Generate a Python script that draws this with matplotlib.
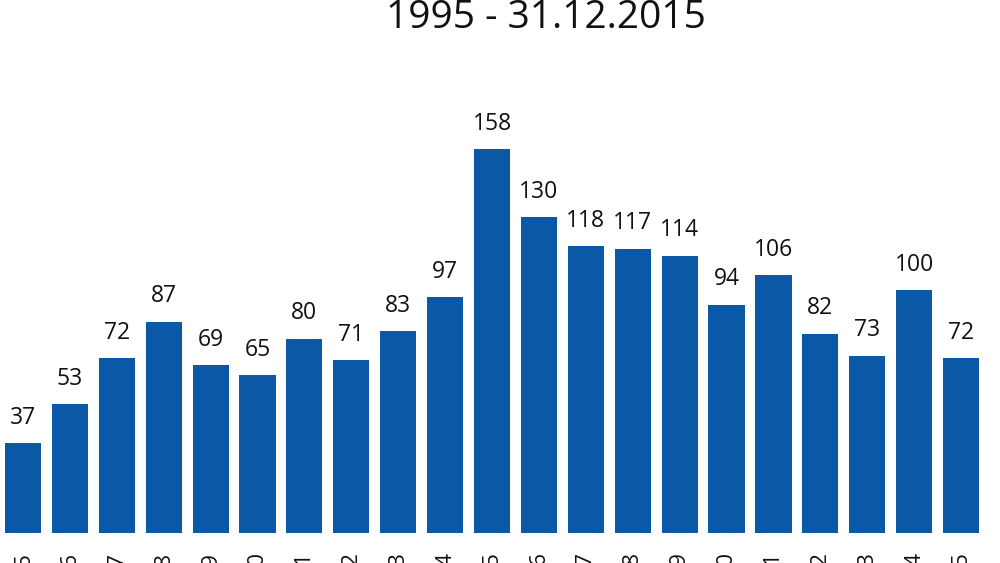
import numpy as np
import matplotlib
matplotlib.use('Agg')
import matplotlib.pyplot as plt
import matplotlib.transforms as mtransforms

years = [str(y) for y in range(1995, 2016)]
values = [37, 53, 72, 87, 69, 65, 80, 71, 83, 97, 158,
          130, 118, 117, 114, 94, 106, 82, 73, 100, 72]
title = '1995 - 31.12.2015'

plt.rcParams['font.family'] = ['Open Sans', 'DejaVu Sans']

fig = plt.figure(figsize=(10, 5.63), dpi=100)
ax = fig.add_axes([0, 0, 1, 1])
ax.axis('off')

x = np.arange(len(values))
ax.bar(x, values, width=0.77, color='#0a58a6')
ax.set_xlim(-0.49, 20.83)
ax.set_ylim(-12.35, 219.3)

for xi, v in zip(x, values):
    ax.annotate(str(v), (xi, v), xytext=(0, 14), textcoords='offset points',
                ha='center', va='baseline', fontsize=16.5, color='#111111')

# year labels, mostly cut off by the bottom edge (as in the source image)
trans = mtransforms.blended_transform_factory(ax.transData, fig.transFigure)
for xi, yr in zip(x, years):
    ax.text(xi, 12 / 563, yr, transform=trans, rotation=90,
            ha='center', va='top', fontsize=16, color='#111111')

fig.text(546 / 1000, 1 - 28 / 563, title, ha='center', va='baseline',
         fontsize=28, color='#111111')

fig.savefig('out.png', dpi=100)
